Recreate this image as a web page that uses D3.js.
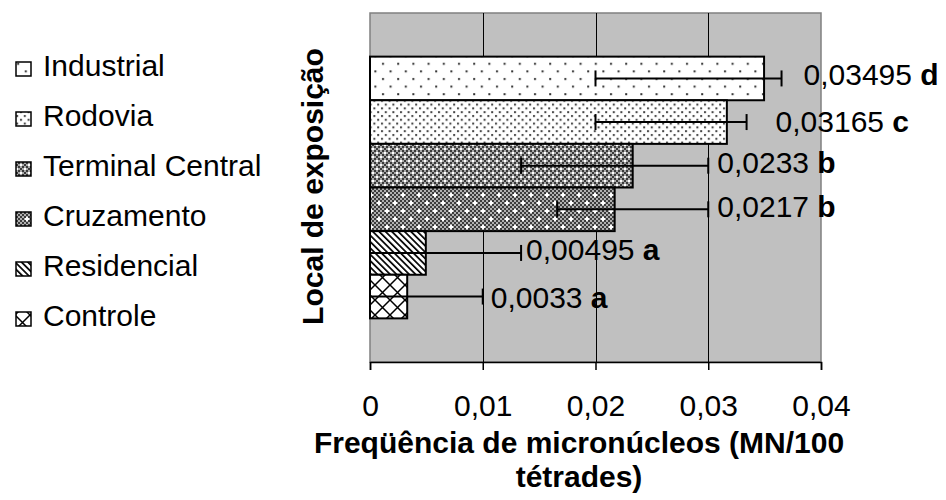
<!DOCTYPE html>
<html>
<head>
<meta charset="utf-8">
<script src="https://cdn.jsdelivr.net/npm/d3@7"></script>
<style>
  html, body { margin: 0; padding: 0; background: #fff; }
  svg { display: block; }
  text { font-family: "Liberation Sans", Arial, sans-serif; fill: #000; }
</style>
</head>
<body>
<svg id="chart" width="946" height="500"></svg>
<script>
// ---------- data ----------
const categories = ["Industrial", "Rodovia", "Terminal Central", "Cruzamento", "Residencial", "Controle"];
const values     = [0.03495, 0.03165, 0.0233, 0.0217, 0.00495, 0.0033];
const errLow     = [0.0200, 0.0200, 0.0134, 0.0166, -0.0035, -0.0034];
const errHigh    = [0.0365, 0.0334, 0.0300, 0.0300, 0.0134, 0.0100];
const letters    = ["d", "c", "b", "b", "a", "a"];
const xTicks     = [0, 0.01, 0.02, 0.03, 0.04];
const yTitle     = "Local de exposição";
const xTitleLines = ["Freqüência de micronúcleos (MN/100", "tétrades)"];

// ---------- layout (not data) ----------
const patternIds = ["p-ind", "p-rod", "p-tc", "p-cr", "p-res", "p-ctl"];
const labelDx = [22, 29, 9, 9, 5, 8];
const labelDy = [6.6, 9.7, 7.4, 7.5, 7.2, 11.3];
const plot = { left: 370, right: 821, top: 13, bottom: 362 };
const FONT = 30;

const fmt = v => String(v).replace(".", ",");

const svg = d3.select("#chart");
const defs = svg.append("defs");

// Patterns
function pat(id, w, h, transform) {
  const p = defs.append("pattern").attr("id", id)
    .attr("patternUnits", "userSpaceOnUse")
    .attr("width", w).attr("height", h);
  if (transform) p.attr("patternTransform", transform);
  return p;
}
// Industrial: sparse dots
{
  const p = pat("p-ind", 15.2, 15.2);
  p.append("rect").attr("width", 15.2).attr("height", 15.2).attr("fill", "#fff");
  p.append("rect").attr("x", 2).attr("y", 2).attr("width", 2).attr("height", 2).attr("fill", "#333");
  p.append("rect").attr("x", 9.6).attr("y", 9.6).attr("width", 2).attr("height", 2).attr("fill", "#333");
}
// Rodovia: denser dots
{
  const p = pat("p-rod", 7.6, 7.6);
  p.append("rect").attr("width", 7.6).attr("height", 7.6).attr("fill", "#fff");
  p.append("rect").attr("x", 1).attr("y", 1).attr("width", 2).attr("height", 2).attr("fill", "#444");
  p.append("rect").attr("x", 4.8).attr("y", 4.8).attr("width", 2).attr("height", 2).attr("fill", "#444");
}
// Terminal Central: checker with dense white spots
{
  const p = pat("p-tc", 8, 8);
  p.append("rect").attr("width", 8).attr("height", 8).attr("fill", "#a8a8a8");
  for (let i = 0; i < 4; i++) for (let j = 0; j < 4; j++) {
    if ((i + j) % 2 === 0) p.append("rect").attr("x", i * 2).attr("y", j * 2).attr("width", 2).attr("height", 2).attr("fill", "#3a3a3a");
  }
  p.append("rect").attr("x", 0).attr("y", 0).attr("width", 2).attr("height", 2).attr("fill", "#fff");
  p.append("rect").attr("x", 4).attr("y", 4).attr("width", 2).attr("height", 2).attr("fill", "#fff");
}
// Cruzamento: darker checker with sparse white plus
{
  const p = pat("p-cr", 16, 16);
  p.append("rect").attr("width", 16).attr("height", 16).attr("fill", "#b0b0b0");
  for (let i = 0; i < 8; i++) for (let j = 0; j < 8; j++) {
    if ((i + j) % 2 === 0) p.append("rect").attr("x", i * 2).attr("y", j * 2).attr("width", 2).attr("height", 2).attr("fill", "#3c3c3c");
  }
  [[2, 2], [10, 10]].forEach(([x, y]) => {
    p.append("rect").attr("x", x - 1).attr("y", y).attr("width", 4).attr("height", 2).attr("fill", "#fff");
    p.append("rect").attr("x", x).attr("y", y - 1).attr("width", 2).attr("height", 4).attr("fill", "#fff");
  });
}
// Residencial: diagonal lines "\"
{
  const p = pat("p-res", 4.5, 4.5, "rotate(-45)");
  p.append("rect").attr("width", 4.5).attr("height", 4.5).attr("fill", "#fff");
  p.append("rect").attr("x", 0).attr("y", 0).attr("width", 1.7).attr("height", 4.5).attr("fill", "#000");
}
// Controle: diagonal cross hatch
{
  const p = pat("p-ctl", 15, 15);
  p.append("rect").attr("width", 15).attr("height", 15).attr("fill", "#fff");
  p.append("path").attr("d", "M0,0L15,15M15,0L0,15M-1,14L1,16M14,-1L16,1M-1,1L1,-1M14,16L16,14")
    .attr("stroke", "#000").attr("stroke-width", 1.5).attr("fill", "none");
}

// Scales
const x = d3.scaleLinear().domain([0, 0.04]).range([plot.left, plot.right]);
const y = d3.scaleBand().domain(categories).range([plot.top, plot.bottom])
  .paddingInner(0).paddingOuter(1);

// Plot area background
svg.append("rect")
  .attr("x", plot.left).attr("y", plot.top)
  .attr("width", plot.right - plot.left).attr("height", plot.bottom - plot.top)
  .attr("fill", "#c0c0c0").attr("stroke", "#808080").attr("stroke-width", 1.5);

// Gridlines
svg.append("g").selectAll("line")
  .data(xTicks.filter(t => t > 0 && t < 0.04))
  .join("line")
  .attr("x1", d => Math.round(x(d)) + 0.5).attr("x2", d => Math.round(x(d)) + 0.5)
  .attr("y1", plot.top).attr("y2", plot.bottom)
  .attr("stroke", "#000").attr("stroke-width", 1);

// Bars
const rows = categories.map((c, i) => ({ c, i, v: values[i], lo: errLow[i], hi: errHigh[i], l: letters[i] }));
svg.append("g").selectAll("rect")
  .data(rows).join("rect")
  .attr("x", x(0))
  .attr("y", d => y(d.c))
  .attr("width", d => x(d.v) - x(0))
  .attr("height", y.bandwidth())
  .attr("fill", d => `url(#${patternIds[d.i]})`)
  .attr("stroke", "#000").attr("stroke-width", 2);

// Error bars
const eb = svg.append("g").attr("stroke", "#000").attr("stroke-width", 2);
rows.forEach(d => {
  const cy = y(d.c) + y.bandwidth() / 2;
  const x0 = x(Math.max(0, d.lo));
  const x1 = x(d.hi);
  eb.append("line").attr("x1", x0).attr("x2", x1).attr("y1", cy).attr("y2", cy);
  eb.append("line").attr("x1", x1).attr("x2", x1).attr("y1", cy - 8).attr("y2", cy + 8);
  if (d.lo >= 0) eb.append("line").attr("x1", x0).attr("x2", x0).attr("y1", cy - 8).attr("y2", cy + 8);
});

// X axis
const xAxis = d3.axisBottom(x).tickValues(xTicks).tickSize(8).tickPadding(24.7)
  .tickFormat(d => fmt(d));
const ax = svg.append("g").attr("transform", `translate(0,${plot.bottom})`).call(xAxis);
ax.select(".domain").attr("stroke", "#000").attr("stroke-width", 1.5);
ax.selectAll(".tick line").attr("stroke", "#000").attr("stroke-width", 1.5);
ax.selectAll(".tick text").attr("font-size", FONT).attr("font-family", "Liberation Sans, Arial, sans-serif").attr("fill", "#000");

// Data labels
const lab = svg.append("g");
rows.forEach(d => {
  const cy = y(d.c) + y.bandwidth() / 2;
  const t = lab.append("text")
    .attr("x", x(d.hi) + labelDx[d.i])
    .attr("y", cy + labelDy[d.i])
    .attr("font-size", FONT);
  t.append("tspan").text(fmt(d.v) + " ");
  t.append("tspan").attr("font-weight", "bold").text(d.l);
});

// Legend
const lg = svg.append("g");
categories.forEach((c, i) => {
  const by = 76 + i * 50;
  lg.append("rect").attr("x", 16).attr("y", by - 14).attr("width", 15).attr("height", 14)
    .attr("fill", `url(#${patternIds[i]})`).attr("stroke", "#000").attr("stroke-width", 1.5);
  lg.append("text").attr("x", 43).attr("y", by).attr("font-size", FONT).text(c);
});

// Y title
svg.append("text")
  .attr("transform", "translate(323,186.5) rotate(-90)")
  .attr("text-anchor", "middle")
  .attr("font-size", FONT).attr("font-weight", "bold")
  .text(yTitle);

// X title
xTitleLines.forEach((s, i) => {
  svg.append("text")
    .attr("x", 579).attr("y", 453 + i * 34)
    .attr("text-anchor", "middle")
    .attr("font-size", FONT).attr("font-weight", "bold")
    .text(s);
});
</script>
</body>
</html>
